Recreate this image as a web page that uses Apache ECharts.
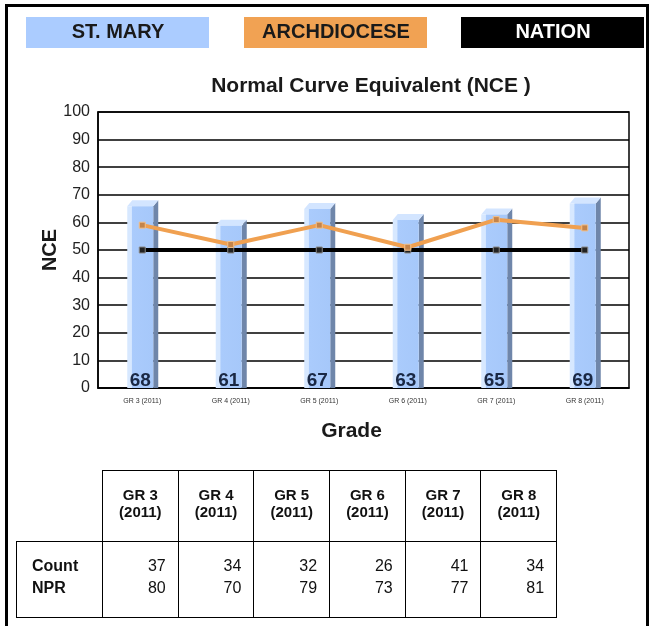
<!DOCTYPE html>
<html>
<head>
    <meta charset="utf-8">
    <title>NCE</title>
    <script src="https://cdn.jsdelivr.net/npm/echarts@6/dist/echarts.min.js"></script>
    <style>
        body { margin: 0; background: #fff; font-family: "Liberation Sans", Arial, sans-serif; }
        #frame { position: absolute; left: 5px; top: 4px; width: 644px; height: 660px; border: 3px solid #000; box-sizing: border-box; }
        #chart { position: absolute; left: 0; top: 0; width: 651px; height: 626px; }
        #stats { position: absolute; left: 16px; top: 470px; border-collapse: collapse; table-layout: fixed; color: #111; }
        #stats td { border: 1.5px solid #000; padding: 0; box-sizing: border-box; }
        #stats td.blank { border: none; border-bottom: 1.5px solid #000; width: 86px; }
        #stats td.head { width: 75.7px; height: 71px; text-align: center; vertical-align: middle; font-weight: bold;
            font-size: 15px; line-height: 17px; padding-bottom: 6px; }
        #stats td.lab { width: 86px; height: 76px; vertical-align: top; font-weight: bold; font-size: 16px;
            padding: 13px 0 0 15px; line-height: 22px; }
        #stats td.val { vertical-align: top; text-align: right; font-size: 16px; padding: 13px 12px 0 0; line-height: 22px; }
    </style>
</head>
<body>
<div id="chart"></div>
<div id="frame"></div>
<table id="stats"></table>
<script type="text/javascript">
    const grades = ['GR 3 (2011)', 'GR 4 (2011)', 'GR 5 (2011)', 'GR 6 (2011)', 'GR 7 (2011)', 'GR 8 (2011)'];
    const tableGrades = ['GR 3', 'GR 4', 'GR 5', 'GR 6', 'GR 7', 'GR 8'];
    const tableYear = '(2011)';
    const stMary = [68, 61, 67, 63, 65, 69];
    const archdiocese = [59, 52, 59, 51, 61, 58];
    const nation = [50, 50, 50, 50, 50, 50];
    const counts = [37, 34, 32, 26, 41, 34];
    const npr = [80, 70, 79, 73, 77, 81];
    const legendNames = ['ST. MARY', 'ARCHDIOCESE', 'NATION'];

    // table under the chart
    let html = '<tr><td class="blank"></td>';
    tableGrades.forEach(function (g) {
        html += '<td class="head">' + g + '<br>' + tableYear + '</td>';
    });
    html += '</tr><tr><td class="lab">Count<br>NPR</td>';
    counts.forEach(function (c, i) {
        html += '<td class="val">' + c + '<br>' + npr[i] + '</td>';
    });
    html += '</tr>';
    document.getElementById('stats').innerHTML = html;

    const chart = echarts.init(document.getElementById('chart'));
    const font = '"Liberation Sans", Arial, sans-serif';

    const frontFill = new echarts.graphic.LinearGradient(0, 0, 1, 0, [
        {offset: 0, color: '#d7e8ff'},
        {offset: 0.16, color: '#d7e8ff'},
        {offset: 0.2, color: '#aacbfc'},
        {offset: 1, color: '#a6c8fa'}
    ]);

    function renderBar(params, api) {
        const p = api.coord([api.value(0), api.value(1)]);
        const b = api.coord([api.value(0), 0]);
        const x = p[0], top = p[1] + 6, base = b[1];
        return {
            type: 'group',
            children: [
                {type: 'polygon', shape: {points: [[x + 11, top], [x + 16, top - 6], [x + 16, base], [x + 11, base]]},
                    style: {fill: '#6f86aa'}},
                {type: 'polygon', shape: {points: [[x - 15, top], [x - 10, top - 6], [x + 16, top - 6], [x + 11, top]]},
                    style: {fill: '#d3e5ff'}},
                {type: 'rect', shape: {x: x - 15, y: top, width: 26, height: base - top}, style: {fill: frontFill}},
                {type: 'text', style: {text: String(api.value(1)), x: x - 2, y: base + 2, align: 'center',
                        verticalAlign: 'bottom', font: 'bold 19px ' + font, fill: '#1a2844'}}
            ]
        };
    }

    const legendBoxes = [
        {x: 26, fill: '#abccff', text: '#1a1a1a'},
        {x: 244, fill: '#f1a253', text: '#1a1a1a'},
        {x: 461, fill: '#000000', text: '#ffffff'}
    ];

    const option = {
        animation: false,
        title: {
            text: 'Normal Curve Equivalent (NCE )',
            left: 366,
            top: 71,
            textAlign: 'center',
            textStyle: {fontFamily: font, fontSize: 21, fontWeight: 'bold', color: '#1a1a1a'}
        },
        graphic: legendBoxes.map(function (box, i) {
            return {
                type: 'group',
                left: box.x,
                top: 17,
                children: [
                    {type: 'rect', shape: {x: 0, y: 0, width: 183, height: 31}, style: {fill: box.fill}},
                    {type: 'text', style: {text: legendNames[i], x: 92, y: 15, align: 'center', verticalAlign: 'middle',
                            font: 'bold 20px ' + font, fill: box.text}}
                ]
            };
        }),
        grid: {
            left: 98, top: 112, width: 531, height: 276,
            show: true, borderColor: '#000', borderWidth: 1.5
        },
        xAxis: {
            type: 'category',
            data: grades,
            name: 'Grade',
            nameLocation: 'middle',
            nameGap: 33,
            nameMoveOverlap: false,
            nameTextStyle: {fontFamily: font, fontSize: 21, fontWeight: 'bold', color: '#1a1a1a', padding: [0, 24, 0, 0]},
            axisLine: {lineStyle: {color: '#000', width: 1.5}},
            axisTick: {show: false},
            axisLabel: {fontFamily: font, fontSize: 7, color: '#333', margin: 10}
        },
        yAxis: {
            type: 'value',
            min: 0, max: 100, interval: 10,
            name: 'NCE',
            nameLocation: 'middle',
            nameGap: 38,
            nameMoveOverlap: false,
            nameTextStyle: {fontFamily: font, fontSize: 20, fontWeight: 'bold', color: '#1a1a1a'},
            axisLine: {show: true, lineStyle: {color: '#000', width: 1.5}},
            axisTick: {show: false},
            axisLabel: {fontFamily: font, fontSize: 16, color: '#222', margin: 8},
            splitLine: {lineStyle: {color: '#000', width: 1.5}}
        },
        series: [
            {
                name: legendNames[0],
                type: 'custom',
                renderItem: renderBar,
                encode: {x: 0, y: 1},
                data: stMary.map(function (v, i) { return [i, v]; }),
                z: 2
            },
            {
                name: legendNames[1],
                type: 'line',
                data: archdiocese,
                symbol: 'rect',
                symbolSize: 6,
                lineStyle: {color: '#f0a050', width: 4},
                itemStyle: {color: '#c4844a', borderColor: '#f3c08a', borderWidth: 1},
                z: 4
            },
            {
                name: legendNames[2],
                type: 'line',
                data: nation,
                symbol: 'rect',
                symbolSize: 6,
                lineStyle: {color: '#000', width: 4},
                itemStyle: {color: '#222', borderColor: '#888', borderWidth: 1},
                z: 3
            }
        ]
    };
    chart.setOption(option);
    window.addEventListener('resize', chart.resize);
</script>
</body>
</html>
